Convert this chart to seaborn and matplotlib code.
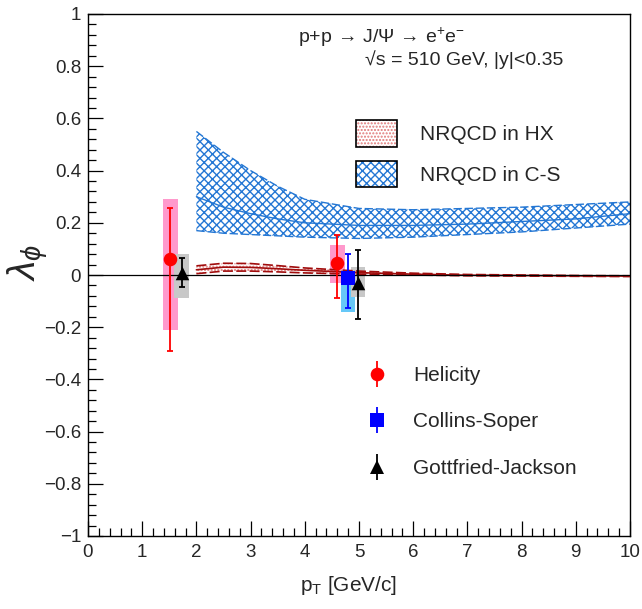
import numpy as np
import pandas as pd
import matplotlib
matplotlib.use('Agg')
import matplotlib.pyplot as plt
from matplotlib.patches import Patch
from matplotlib.lines import Line2D
from matplotlib.ticker import MultipleLocator, FuncFormatter
import seaborn as sns


# lambda_phi measurements (value, stat. low/high, syst. low/high)
hel_pt = [1.52, 4.60]
hel_lam = [0.06, 0.046]
hel_stat_lo = [0.35, 0.134]
hel_stat_hi = [0.197, 0.107]
hel_sys_lo = [0.27, 0.076]
hel_sys_hi = [0.23, 0.069]

cs_pt = [4.80]
cs_lam = [-0.011]
cs_stat_lo = [0.115]
cs_stat_hi = [0.091]
cs_sys_lo = [0.129]
cs_sys_hi = [0.03]

gj_pt = [1.73, 4.98]
gj_lam = [0.008, -0.029]
gj_stat_lo = [0.053, 0.14]
gj_stat_hi = [0.057, 0.125]
gj_sys_lo = [0.096, 0.055]
gj_sys_hi = [0.072, 0.059]

# NRQCD predictions
band_pt = [2, 2.5, 3, 3.5, 4, 5, 6, 7, 8, 9, 10]
cs_up = [0.55, 0.47, 0.40, 0.34, 0.29, 0.255, 0.25, 0.255, 0.26, 0.27, 0.28]
cs_mid = [0.30, 0.26, 0.235, 0.215, 0.20, 0.19, 0.19, 0.195, 0.205, 0.215, 0.235]
cs_low = [0.17, 0.16, 0.155, 0.15, 0.145, 0.14, 0.145, 0.155, 0.165, 0.18, 0.195]
hx_up = [0.035, 0.045, 0.044, 0.036, 0.027, 0.015, 0.007, 0.002, 0.0, -0.002, -0.003]
hx_mid = [0.02, 0.03, 0.029, 0.024, 0.018, 0.009, 0.003, -0.001, -0.002, -0.003, -0.004]
hx_low = [0.005, 0.015, 0.015, 0.012, 0.008, 0.003, 0.0, -0.003, -0.004, -0.005, -0.006]

x_ticks = list(range(0, 11))
y_ticks = [-1, -0.8, -0.6, -0.4, -0.2, 0, 0.2, 0.4, 0.6, 0.8, 1]

RED = '#ff0000'
BLUE = '#0000ff'
CS_BAND = '#2477d4'
HX_DOTS = '#e07878'
HX_LINE = '#a00c0c'


def draw_frame(ax, pt, lam, st_lo, st_hi, sy_lo, sy_hi, color, box_color, marker, size):
    lam = np.asarray(lam)
    bottom = lam - np.asarray(sy_lo)
    height = np.asarray(sy_lo) + np.asarray(sy_hi)
    ax.bar(pt, height, bottom=bottom, width=0.27, color=box_color, linewidth=0, zorder=2)
    ax.errorbar(pt, lam, yerr=[st_lo, st_hi], fmt='none', ecolor=color,
                elinewidth=1.3, capsize=2.3, capthick=1.3, zorder=5)
    sns.scatterplot(x=pt, y=lam, ax=ax, marker=marker, s=size, color=color,
                    linewidth=0, zorder=6, legend=False)


sns.set_theme(style='ticks')
plt.rcParams['font.family'] = ['Liberation Sans', 'DejaVu Sans']
plt.rcParams['mathtext.fontset'] = 'custom'
plt.rcParams['mathtext.rm'] = 'Liberation Sans'
plt.rcParams['mathtext.it'] = 'Liberation Sans:italic'
plt.rcParams['hatch.linewidth'] = 1.0

fig = plt.figure(figsize=(6.42, 6.09), dpi=100)
ax = fig.add_axes([88 / 642, 73 / 609, 542 / 642, 522 / 609])

bands = pd.DataFrame({'pt': band_pt, 'cs_up': cs_up, 'cs_mid': cs_mid, 'cs_low': cs_low,
                      'hx_up': hx_up, 'hx_mid': hx_mid, 'hx_low': hx_low})

# C-S band
ax.fill_between(bands['pt'], bands['cs_low'], bands['cs_up'], facecolor='none',
                edgecolor=CS_BAND, hatch='xxxx', linewidth=0, zorder=1)
for col, ls in [('cs_up', (0, (6, 2))), ('cs_low', (0, (6, 2))), ('cs_mid', '-')]:
    sns.lineplot(data=bands, x='pt', y=col, ax=ax, color=CS_BAND, lw=1.0,
                 linestyle=ls, zorder=1)

# HX band
ax.fill_between(bands['pt'], bands['hx_low'], bands['hx_up'], facecolor='none',
                edgecolor=HX_DOTS, hatch='.....', linewidth=0, zorder=3)
for col, ls in [('hx_up', (0, (6, 2))), ('hx_low', (0, (6, 2))), ('hx_mid', '-')]:
    sns.lineplot(data=bands, x='pt', y=col, ax=ax, color=HX_LINE, lw=1.2,
                 linestyle=ls, zorder=3)

ax.axhline(0, color='black', lw=0.9, zorder=3)

draw_frame(ax, hel_pt, hel_lam, hel_stat_lo, hel_stat_hi, hel_sys_lo, hel_sys_hi,
           RED, '#ff99cc', 'o', 95)
draw_frame(ax, cs_pt, cs_lam, cs_stat_lo, cs_stat_hi, cs_sys_lo, cs_sys_hi,
           BLUE, '#66c8f8', 's', 105)
draw_frame(ax, gj_pt, gj_lam, gj_stat_lo, gj_stat_hi, gj_sys_lo, gj_sys_hi,
           'black', '#c8c8c8', '^', 95)

ax.set_xlim(0, 10)
ax.set_ylim(-1, 1)
ax.set_xticks(x_ticks)
ax.set_yticks(y_ticks)
ax.xaxis.set_minor_locator(MultipleLocator(0.2))
ax.yaxis.set_minor_locator(MultipleLocator(0.04))


def fmt(v, pos):
    s = '%g' % round(v, 2)
    return s.replace('-', '\u2212')


ax.yaxis.set_major_formatter(FuncFormatter(fmt))
ax.tick_params(which='both', direction='in', top=False, right=False, labelsize=13.5,
               color='black', width=0.9)
ax.tick_params(which='major', length=11)
ax.tick_params(which='minor', length=5.5)
ax.tick_params(axis='y', pad=5)
ax.tick_params(axis='x', pad=6)
for sp in ax.spines.values():
    sp.set_color('black')
    sp.set_linewidth(1.0)

ax.set_xlabel(r'p$_{\mathrm{T}}$ [GeV/c]', fontsize=15)
ax.xaxis.set_label_coords(0.48, -0.072)
ax.set_ylabel(r'$\lambda_{\phi}$', fontsize=28)
ax.yaxis.set_label_coords(-0.07, 0.525)

ax.text(0.387, 0.955, r'p+p$\,\rightarrow\,$J/$\Psi$$\,\rightarrow\,$e$^{+}$e$^{-}$',
        transform=ax.transAxes, fontsize=14, va='center', ha='left')
ax.text(0.511, 0.912, '\u221as = 510 GeV, |y|<0.35',
        transform=ax.transAxes, fontsize=14, va='center', ha='left')

# theory legend
hx_handle = (Patch(facecolor='none', edgecolor=HX_DOTS, hatch='.....', lw=0),
             Patch(facecolor='none', edgecolor='black', lw=1.2))
cs_handle = (Patch(facecolor='none', edgecolor=CS_BAND, hatch='xxxx', lw=0),
             Patch(facecolor='none', edgecolor='black', lw=1.2))
leg1 = ax.legend([hx_handle, cs_handle], ['NRQCD in HX', 'NRQCD in C-S'],
                 loc='upper left', bbox_to_anchor=(0.494, 0.797), borderaxespad=0,
                 borderpad=0, frameon=False, fontsize=15, handlelength=1.97,
                 handleheight=1.6, labelspacing=0.67, handletextpad=1.1)
ax.add_artist(leg1)


# data legend
def point_handle(color, marker, ms):
    bar = Line2D([], [], color=color, marker='|', markersize=19, mew=1.3, ls='none')
    dot = Line2D([], [], color=color, marker=marker, markersize=ms, ls='none', mew=0)
    return (bar, dot)


ax.legend([point_handle(RED, 'o', 9.8), point_handle(BLUE, 's', 10.2),
           point_handle('black', '^', 9.8)],
          ['Helicity', 'Collins-Soper', 'Gottfried-Jackson'],
          loc='upper left', bbox_to_anchor=(0.51, 0.326), borderaxespad=0,
          borderpad=0, frameon=False, fontsize=15, handlelength=1.2,
          labelspacing=1.32, handletextpad=1.13)

fig.savefig('out.png', dpi=100)
